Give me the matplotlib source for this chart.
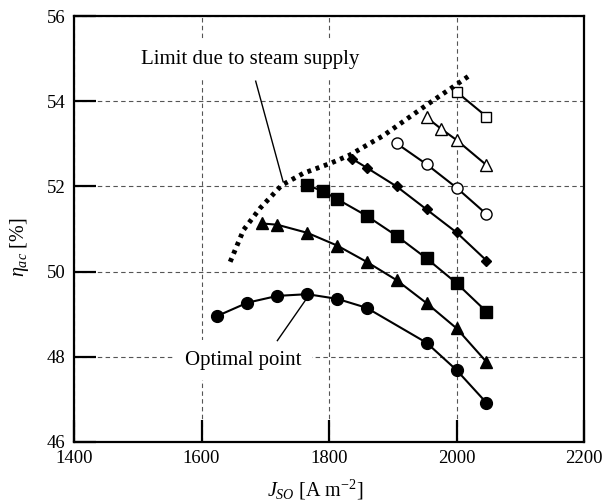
import numpy as np
import matplotlib
matplotlib.use("Agg")
import matplotlib.pyplot as plt

plt.rcParams['font.family'] = ['Liberation Serif', 'DejaVu Serif']
plt.rcParams['mathtext.fontset'] = 'custom'
plt.rcParams['mathtext.rm'] = 'Liberation Serif'
plt.rcParams['mathtext.it'] = 'Liberation Serif:italic'

# current density J_SO [A m-2] and efficiency eta_ac [%]
j_circle = [1625, 1672, 1719, 1766, 1813, 1859, 1953, 2000, 2047]
eta_circle = [48.96, 49.27, 49.43, 49.47, 49.36, 49.15, 48.33, 47.69, 46.92]

j_tri = [1695, 1719, 1766, 1813, 1859, 1906, 1953, 2000, 2047]
eta_tri = [51.13, 51.10, 50.91, 50.61, 50.23, 49.80, 49.26, 48.67, 47.88]

j_sq = [1766, 1790, 1813, 1859, 1906, 1953, 2000, 2047]
eta_sq = [52.03, 51.89, 51.70, 51.31, 50.84, 50.31, 49.73, 49.06]

j_dia = [1836, 1859, 1906, 1953, 2000, 2047]
eta_dia = [52.65, 52.44, 52.00, 51.46, 50.92, 50.26]

j_ocirc = [1906, 1953, 2000, 2047]
eta_ocirc = [53.01, 52.52, 51.97, 51.35]

j_otri = [1953, 1976, 2000, 2047]
eta_otri = [53.62, 53.35, 53.09, 52.50]

j_osq = [2000, 2047]
eta_osq = [54.22, 53.64]

# limit due to steam supply
j_lim = [1645, 1666, 1692, 1726, 1760, 1802, 1833, 1885, 1953, 1995, 2024]
eta_lim = [50.23, 50.98, 51.49, 52.03, 52.31, 52.54, 52.74, 53.19, 53.91, 54.34, 54.64]

x_ticks = [1400, 1600, 1800, 2000, 2200]
y_ticks = [46, 48, 50, 52, 54, 56]

fig = plt.figure(figsize=(6.02, 5.03), dpi=100)
ax = fig.add_axes([74/602, 1 - 442/503, 510/602, 426/503])

ax.set_xlim(1400, 2200)
ax.set_ylim(46, 56)
ax.set_xticks(x_ticks)
ax.set_yticks(y_ticks)

ax.grid(True, color='#555555', lw=0.8, linestyle=(0, (4, 3)), zorder=0)
ax.set_axisbelow(True)

for s in ax.spines.values():
    s.set_linewidth(1.6)
ax.tick_params(direction='in', length=16, width=1.6, labelsize=13.5, pad=6,
               top=False, right=False)

kw = dict(color='black', lw=1.5, zorder=4)
ax.plot(j_circle, eta_circle, marker='o', ms=8.5, **kw)
ax.plot(j_tri, eta_tri, marker='^', ms=8, **kw)
ax.plot(j_sq, eta_sq, marker='s', ms=8.5, **kw)
ax.plot(j_dia, eta_dia, marker='D', ms=5, **kw)
ax.plot(j_ocirc, eta_ocirc, marker='o', ms=8, mfc='white', mew=1, **kw)
ax.plot(j_otri, eta_otri, marker='^', ms=8, mfc='white', mew=1, **kw)
ax.plot(j_osq, eta_osq, marker='s', ms=6.5, mfc='white', mew=1, **kw)

ax.plot(j_lim, eta_lim, color='black', lw=3.5, linestyle=(0, (0.8, 1.0)),
        dash_capstyle='butt', zorder=5)

# labels with leader lines
ax.text(1677, 54.97, 'Limit due to steam supply', fontsize=15, ha='center', va='center',
        bbox=dict(boxstyle='square,pad=0.5', fc='white', ec='none'), zorder=2)
ax.plot([1685, 1728], [54.47, 52.11], color='black', lw=1, zorder=3)

ax.text(1666, 47.92, 'Optimal point', fontsize=15, ha='center', va='center',
        bbox=dict(boxstyle='square,pad=0.5', fc='white', ec='none'), zorder=2)
ax.plot([1719, 1765], [48.38, 49.37], color='black', lw=1, zorder=3)

ax.set_xlabel(r'$J_{SO}$ [A m$^{-2}$]', fontsize=14.5)
ax.set_ylabel(r'$\eta_{ac}$ [%]', fontsize=14.5)
ax.xaxis.set_label_coords(0.474, -0.085)
ax.yaxis.set_label_coords(-0.085, 0.458)

fig.savefig('out.png', dpi=100)
